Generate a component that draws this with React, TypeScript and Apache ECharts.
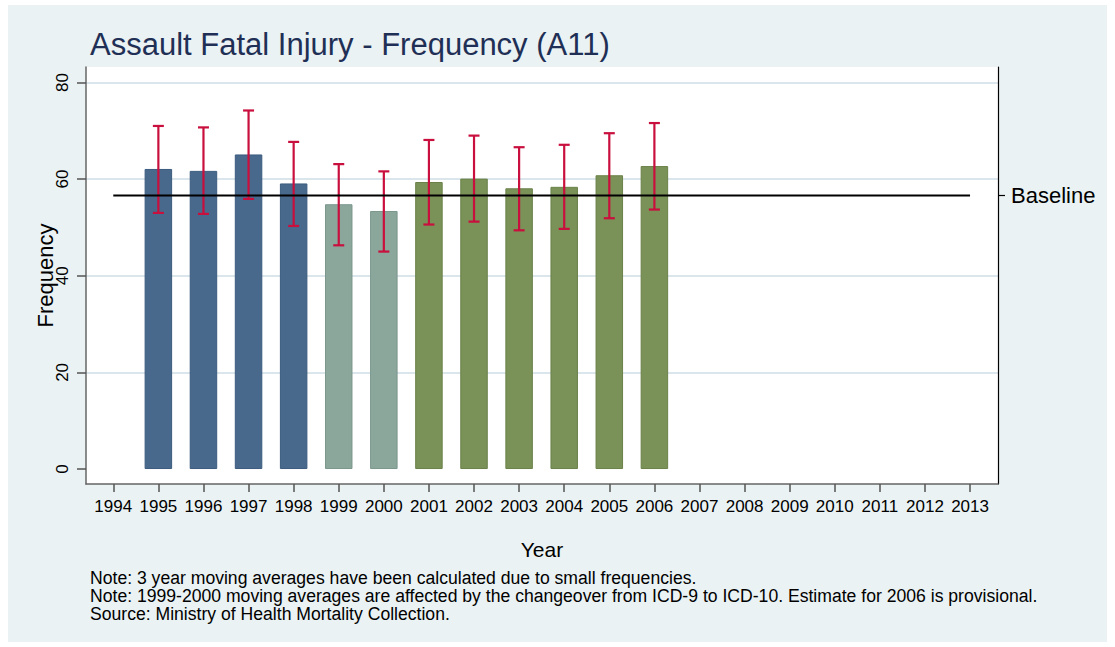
import React, { useEffect, useRef } from "react";
import * as echarts from "echarts";

const tickYears = [1994, 1995, 1996, 1997, 1998, 1999, 2000, 2001, 2002, 2003, 2004, 2005, 2006, 2007, 2008, 2009, 2010, 2011, 2012, 2013];
const barYears = [1995, 1996, 1997, 1998, 1999, 2000, 2001, 2002, 2003, 2004, 2005, 2006];
const frequency = [62.1, 61.7, 65.1, 59.1, 54.8, 53.4, 59.4, 60.1, 58.1, 58.4, 60.8, 62.7];
const ciLower = [53.0, 52.8, 55.9, 50.3, 46.3, 45.0, 50.6, 51.2, 49.4, 49.7, 51.9, 53.7];
const ciUpper = [71.0, 70.7, 74.2, 67.7, 63.1, 61.6, 68.1, 69.0, 66.6, 67.1, 69.5, 71.6];
const period = ["icd9", "icd9", "icd9", "icd9", "change", "change", "icd10", "icd10", "icd10", "icd10", "icd10", "icd10"];
const baselineValue = 56.6;
const baselineYears = [1994, 2013];
const yTicks = [0, 20, 40, 60, 80];

const periodColors: Record<string, { fill: string; border: string }> = {
  icd9: { fill: "#48698c", border: "#3b5b7f" },
  change: { fill: "#8ba69b", border: "#7b978c" },
  icd10: { fill: "#7a9158", border: "#6a8249" },
};

const FONT = "Liberation Sans, Arial, Helvetica, sans-serif";

export default function App() {
  const ref = useRef<HTMLDivElement>(null);

  useEffect(() => {
    if (!ref.current) return;
    const chart = echarts.init(ref.current, null, { renderer: "svg" });

    const yMin = -3.1;
    const yMax = 83.2;

    const option: any = {
      animation: false,
      backgroundColor: "#ffffff",
      textStyle: { fontFamily: FONT },
      title: {
        text: "Assault Fatal Injury - Frequency (A11)",
        left: 85,
        top: 24,
        textStyle: { fontSize: 31, fontWeight: "normal", color: "#1f2f55", fontFamily: FONT },
      },
      graphic: [
        {
          type: "rect",
          z: -10,
          shape: { x: 8, y: 5, width: 1099, height: 637 },
          style: { fill: "#eaf2f3" },
          silent: true,
        },
        {
          type: "text",
          left: 90,
          top: 569,
          style: {
            text:
              "Note: 3 year moving averages have been calculated due to small frequencies.\n" +
              "Note: 1999-2000 moving averages are affected by the changeover from ICD-9 to ICD-10. Estimate for 2006 is provisional.\n" +
              "Source: Ministry of Health Mortality Collection.",
            fontSize: 17.6,
            lineHeight: 18,
            fill: "#000000",
            fontFamily: FONT,
          },
        },
      ],
      grid: {
        left: 86,
        top: 67,
        right: 117,
        bottom: 163,
        show: true,
        backgroundColor: "#ffffff",
        borderWidth: 0,
        containLabel: false,
      },
      xAxis: {
        type: "value",
        min: 1993.395,
        max: 2013.62,
        name: "Year",
        nameLocation: "middle",
        nameGap: 55,
        nameMoveOverlap: false,
        nameTextStyle: { fontSize: 21, color: "#000", fontFamily: FONT },
        axisLine: { show: true, onZero: false, lineStyle: { color: "#666666", width: 1.5 } },
        axisTick: { show: true, inside: false, length: 8, customValues: tickYears, lineStyle: { color: "#555555", width: 1.5 } },
        axisLabel: {
          customValues: tickYears,
          formatter: (v: number) => String(v),
          fontSize: 17,
          color: "#000",
          margin: 14,
          fontFamily: FONT,
        },
        splitLine: { show: false },
      },
      yAxis: [
        {
          type: "value",
          min: yMin,
          max: yMax,
          position: "left",
          name: "Frequency",
          nameLocation: "middle",
          nameGap: 30,
          nameMoveOverlap: false,
          nameTextStyle: { fontSize: 22, color: "#000", fontFamily: FONT },
          axisLine: { show: true, onZero: false, lineStyle: { color: "#666666", width: 1.5 } },
          axisTick: { show: true, length: 9, customValues: yTicks, lineStyle: { color: "#555555", width: 1.5 } },
          axisLabel: {
            customValues: yTicks,
            rotate: 90,
            fontSize: 17,
            color: "#000",
            margin: 15,
            fontFamily: FONT,
          },
          splitLine: { show: false },
        },
        {
          type: "value",
          min: yMin,
          max: yMax,
          position: "right",
          axisLine: { show: true, onZero: false, lineStyle: { color: "#000000", width: 1.2 } },
          axisTick: { show: true, length: 7, customValues: [baselineValue], lineStyle: { color: "#000", width: 1.2 } },
          axisLabel: {
            customValues: [baselineValue],
            formatter: () => "Baseline",
            fontSize: 22,
            color: "#000",
            margin: 13,
            fontFamily: FONT,
          },
          splitLine: { show: false },
        },
      ],
      series: [
        {
          type: "line",
          name: "grid",
          data: [],
          z: 0,
          silent: true,
          markLine: {
            silent: true,
            symbol: "none",
            z: 0,
            label: { show: false },
            lineStyle: { color: "#dbe6ec", width: 2, type: "solid" },
            data: yTicks.filter((t) => t > 0).map((t) => ({ yAxis: t })),
          },
        },
        {
          type: "bar",
          z: 2,
          barWidth: 27.5,
          data: barYears.map((y, i) => ({
            value: [y, frequency[i]],
            itemStyle: {
              color: periodColors[period[i]].fill,
              borderColor: periodColors[period[i]].border,
              borderWidth: 1,
            },
          })),
        },
        {
          type: "custom",
          z: 3,
          data: barYears.map((y, i) => [y, ciLower[i], ciUpper[i]]),
          renderItem: (params: any, api: any) => {
            const x = api.value(0);
            const lo = api.coord([x, api.value(1)]);
            const hi = api.coord([x, api.value(2)]);
            const hw = 5.5;
            const style = { stroke: "#c90f3d", lineWidth: 2.2 };
            return {
              type: "group",
              children: [
                { type: "line", shape: { x1: lo[0], y1: lo[1], x2: hi[0], y2: hi[1] }, style },
                { type: "line", shape: { x1: lo[0] - hw, y1: lo[1], x2: lo[0] + hw, y2: lo[1] }, style },
                { type: "line", shape: { x1: hi[0] - hw, y1: hi[1], x2: hi[0] + hw, y2: hi[1] }, style },
              ],
            };
          },
        },
        {
          type: "line",
          z: 4,
          symbol: "none",
          data: baselineYears.map((y) => [y, baselineValue]),
          lineStyle: { color: "#000000", width: 2 },
        },
      ],
    };

    chart.setOption(option);
    return () => chart.dispose();
  }, []);

  return (
    <div style={{ position: "absolute", left: 0, top: 0, width: 1115, height: 647, background: "#ffffff" }}>
      <div ref={ref} style={{ width: 1115, height: 647 }} />
    </div>
  );
}
